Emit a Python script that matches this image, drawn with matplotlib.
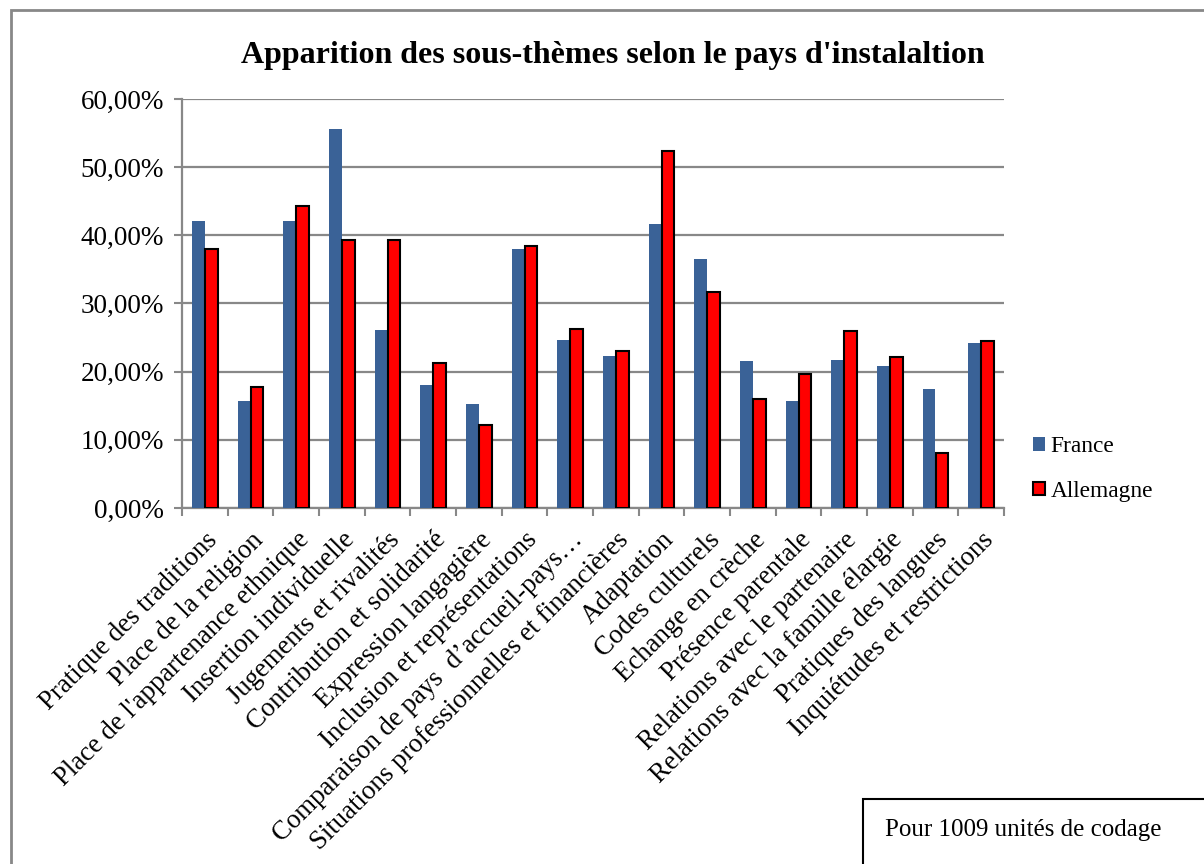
import matplotlib
matplotlib.use('Agg')
import numpy as np
import matplotlib.pyplot as plt
from matplotlib.patches import Rectangle
from matplotlib.ticker import FuncFormatter

plt.rcParams['font.family'] = ['Liberation Serif', 'DejaVu Serif']

# data (percent)
categories = [
    'Pratique des traditions',
    'Place de la religion',
    "Place de l'appartenance ethnique",
    'Insertion individuelle',
    'Jugements et rivalités',
    'Contribution et solidarité',
    'Expression langagière',
    'Inclusion et représentations',
    'Comparaison de pays  d\u2019accueil-pays\u2026',
    'Situations professionnelles et financières',
    'Adaptation',
    'Codes culturels',
    'Echange en crèche',
    'Présence parentale',
    'Relations avec le partenaire',
    'Relations avec la famille élargie',
    'Pratiques des langues',
    'Inquiétudes et restrictions',
]
france = [42.1, 15.7, 42.1, 55.6, 26.1, 18.0, 15.2, 38.0, 24.6, 22.3,
          41.7, 36.6, 21.5, 15.7, 21.7, 20.9, 17.5, 24.2]
allemagne = [38.0, 17.7, 44.3, 39.3, 39.3, 21.3, 12.2, 38.5, 26.2, 23.1,
             52.3, 31.7, 16.0, 19.7, 26.0, 22.2, 8.1, 24.5]
yticks = [0, 10, 20, 30, 40, 50, 60]

fig = plt.figure(figsize=(12.04, 8.64), dpi=100)
ax = fig.add_axes([182 / 1204, 1 - 508 / 864, 822 / 1204, 409 / 864])

x = np.arange(len(categories))
w = 0.28
ax.bar(x - w / 2, france, w, color='#3A6297', label='France', zorder=3)
ax.bar(x + w / 2, allemagne, w, color='#FF0000', edgecolor='black',
       linewidth=1.5, label='Allemagne', zorder=3)

ax.set_xlim(-0.5, len(categories) - 0.5)
ax.set_ylim(0, 60)
ax.set_yticks(yticks)
ax.yaxis.set_major_formatter(FuncFormatter(lambda v, p: f'{v:.2f}%'.replace('.', ',')))
ax.yaxis.grid(True, color='#888888', linewidth=1.6, zorder=0)

ax.set_xticks(x)
ax.set_xticklabels(categories, rotation=45, ha='right', rotation_mode='anchor', fontsize=19.3)
ax.set_xticks(np.arange(-0.5, len(categories)), minor=True)
ax.tick_params(axis='x', which='major', length=0, pad=14)
ax.tick_params(axis='x', which='minor', length=6, width=1.5, color='#888888')
ax.tick_params(axis='y', length=6, width=1.5, color='#888888', labelsize=19.5, pad=7)

for s in ['top', 'right']:
    ax.spines[s].set_visible(False)
for s in ['left', 'bottom']:
    ax.spines[s].set_color('#888888')
    ax.spines[s].set_linewidth(1.6)

fig.text(0.509, 1 - 56 / 864, "Apparition des sous-thèmes selon le pays d'instalaltion",
         ha='center', va='center', fontsize=23, fontweight='bold')

leg = fig.legend(loc='upper left', bbox_to_anchor=(1024 / 1204, 1 - 427 / 864),
                 frameon=False, fontsize=16.8, handlelength=0.5, handleheight=0.5,
                 handletextpad=0.25, labelspacing=1.0, borderaxespad=0)

# outer frame of the chart
fig.patches.append(Rectangle((11 / 1204, -0.1), 1.2, 1.1 - 10 / 864, transform=fig.transFigure,
                             fill=False, edgecolor='#888888', linewidth=2))
# note box in the bottom corner
fig.patches.append(Rectangle((863 / 1204, -0.1), 0.5, 0.1 + 65 / 864, transform=fig.transFigure,
                             fill=True, facecolor='white', edgecolor='black', linewidth=1.5))
fig.text(885 / 1204, 1 - 830 / 864, 'Pour 1009 unités de codage', ha='left', va='center',
         fontsize=18)

fig.savefig('out.png', dpi=100)
